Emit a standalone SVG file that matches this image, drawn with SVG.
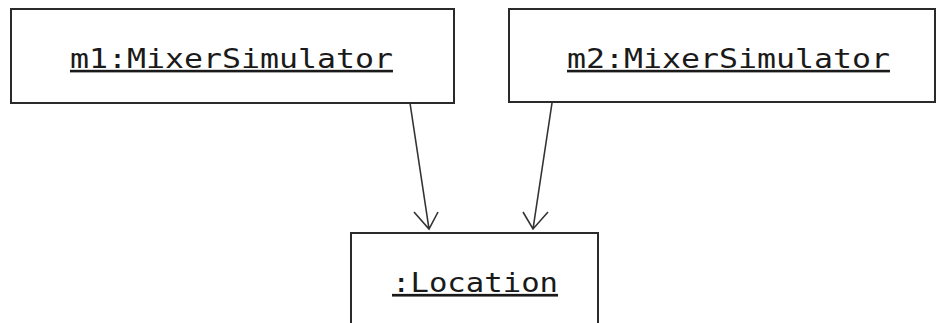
<svg xmlns="http://www.w3.org/2000/svg" width="938" height="323" viewBox="0 0 938 323">
<style>
.box{fill:#fff;stroke:#2a2a2a;stroke-width:2}
.lbl{font-family:"DejaVu Sans Mono","Liberation Mono",monospace;font-size:26px;fill:#1a1a1a;text-decoration:underline}
.conn{fill:none;stroke:#333;stroke-width:1.6}
</style>
<rect width="938" height="323" fill="#fff"/>
<g id="m1">
<rect class="box" x="11" y="9" width="443" height="94"/>
<text class="lbl" transform="translate(70,68) scale(1.214,1)">m1:MixerSimulator</text>
</g>
<g id="m2">
<rect class="box" x="509" y="9" width="426" height="93"/>
<text class="lbl" transform="translate(567,68) scale(1.214,1)">m2:MixerSimulator</text>
</g>
<g id="location">
<rect class="box" x="351" y="233" width="247" height="100"/>
<text class="lbl" style="font-size:27px" transform="translate(392,292) scale(1.135,1)">:Location</text>
</g>
<g id="connectors">
<path class="conn" d="M410,103 L429,229 M414,212 L429,229 L438,212"/>
<path class="conn" d="M552,103 L533,229 M523,212 L533,229 L548,212"/>
</g>
</svg>
